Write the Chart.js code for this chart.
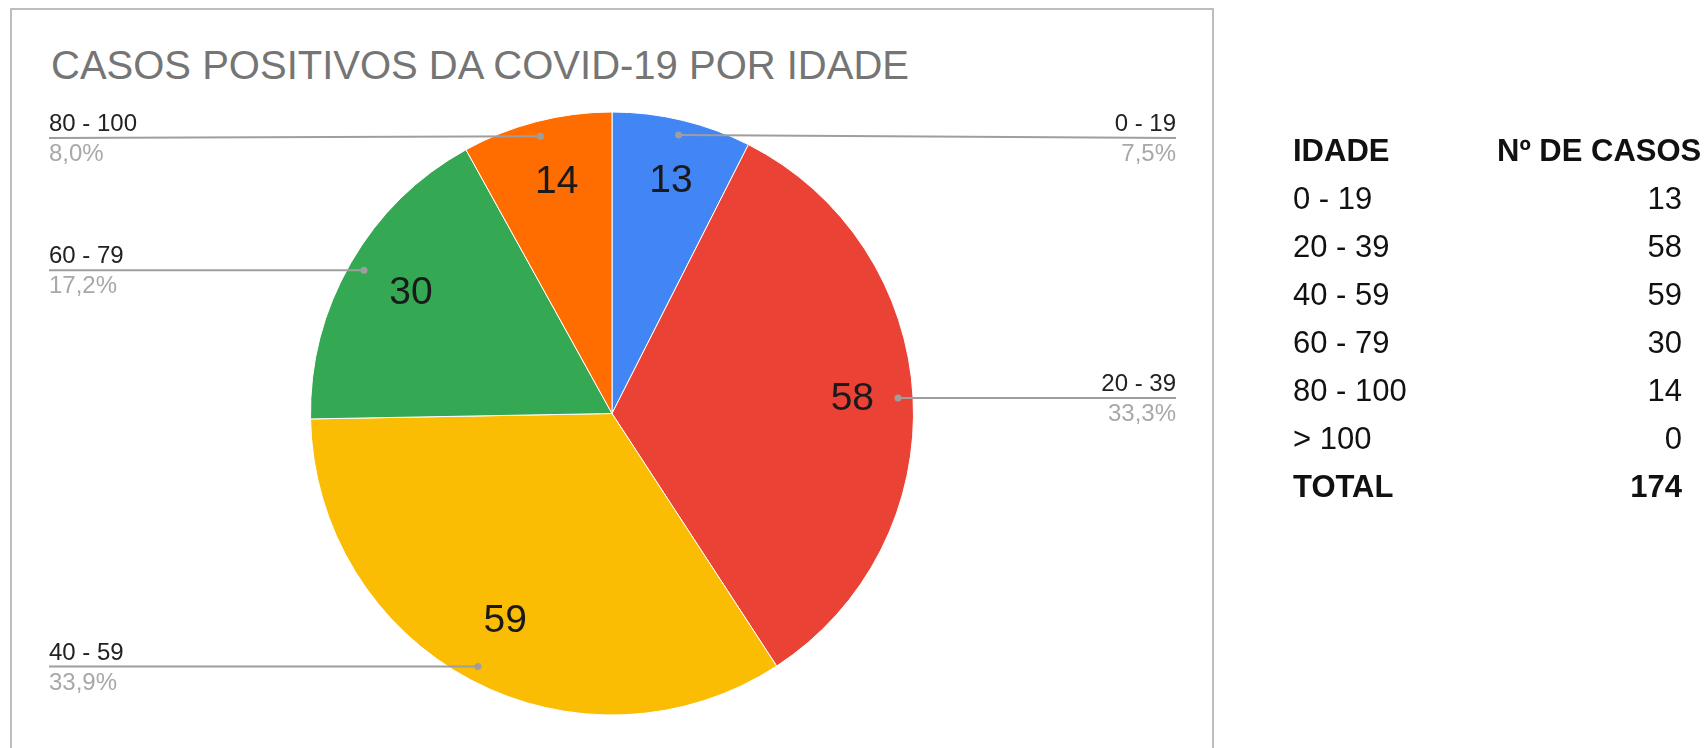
<!DOCTYPE html>
<html>
<head>
<meta charset="utf-8">
<script src="https://cdn.jsdelivr.net/npm/chart.js@4"></script>
<style>
  body { margin: 0; background: #fff; overflow: hidden; width: 1708px; height: 748px; position: relative; font-family: Arial, "Liberation Sans", sans-serif; }
  .caixa { position: absolute; left: 10px; top: 8px; width: 1204px; height: 800px; border: 2px solid #bdbdbd; box-sizing: border-box; }
  .titulo { position: absolute; left: 51px; top: 45px; font-size: 40px; line-height: 40px; color: #757575; white-space: nowrap; }
  #grafico { position: absolute; left: 0; top: 0; }
  .tabela { position: absolute; left: 1293px; top: 127px; width: 389px; font-size: 31px; line-height: 48px; color: #111; }
  .linha { position: relative; height: 48px; white-space: nowrap; }
  .linha .num { position: absolute; right: 0; top: 0; }
  .linha .cab { position: absolute; left: 204px; top: 0; }
  .negrito { font-weight: bold; }
</style>
</head>
<body>
<div class="caixa"></div>
<div class="titulo">CASOS POSITIVOS DA COVID-19 POR IDADE</div>
<canvas id="grafico" width="1708" height="748"></canvas>
<div class="tabela" id="tabela"></div>

<script>
const faixas = ['0 - 19', '20 - 39', '40 - 59', '60 - 79', '80 - 100', '> 100'];
const casos = [13, 58, 59, 30, 14, 0];
const cores = ['#4285f4', '#ea4335', '#fbbc04', '#34a853', '#ff6d01', '#46bdc6'];

const total = casos.reduce((a, b) => a + b, 0);

// tabela do lado direito
const tab = document.getElementById('tabela');
let html = '<div class="linha negrito">IDADE<span class="cab">Nº DE CASOS</span></div>';
faixas.forEach((f, i) => {
  html += '<div class="linha">' + f + '<span class="num">' + casos[i] + '</span></div>';
});
html += '<div class="linha negrito">TOTAL<span class="num">' + total + '</span></div>';
tab.innerHTML = html;

// rotulos: valor dentro da fatia + linha com nome e percentual fora
const rotulos = {
  id: 'rotulos',
  afterDatasetsDraw(chart) {
    const ctx = chart.ctx;
    const meta = chart.getDatasetMeta(0);
    const area = chart.chartArea;
    ctx.save();
    meta.data.forEach((arc, i) => {
      const v = casos[i];
      if (!v) return;
      const p = arc.getProps(['x', 'y', 'startAngle', 'endAngle', 'outerRadius'], true);
      const mid = (p.startAngle + p.endAngle) / 2;
      const r = p.outerRadius;

      // valor (centro visual do texto)
      ctx.font = '39px Arial, "Liberation Sans"';
      ctx.fillStyle = '#1a1a1a';
      ctx.textAlign = 'center';
      ctx.textBaseline = 'alphabetic';
      const tx = p.x + Math.cos(mid) * r * 0.785 + 4;
      const ty = p.y + Math.sin(mid) * r * 0.785 - 5;
      ctx.fillText(String(v), tx, ty + 14);

      // ponto e linha
      const px = p.x + Math.cos(mid) * r * 0.95;
      const py = p.y + Math.sin(mid) * r * 0.95;
      const direita = Math.cos(mid) > 0;
      const ly = Math.max(py, area.top + 27);
      const fim = direita ? 1176 : 49;

      ctx.strokeStyle = '#9e9e9e';
      ctx.lineWidth = 2;
      ctx.beginPath();
      ctx.moveTo(px, py);
      ctx.lineTo(fim, ly);
      ctx.stroke();
      ctx.fillStyle = '#9e9e9e';
      ctx.beginPath();
      ctx.arc(px, py, 3.5, 0, Math.PI * 2);
      ctx.fill();

      ctx.font = '24px Arial, "Liberation Sans"';
      ctx.textAlign = direita ? 'right' : 'left';
      ctx.fillStyle = '#222';
      ctx.fillText(faixas[i], fim, ly - 7);
      ctx.fillStyle = '#a8a8a8';
      const pct = (v / total * 100).toFixed(1).replace('.', ',') + '%';
      ctx.fillText(pct, fim, ly + 23);
    });
    ctx.restore();
  }
};

const data = {
  labels: faixas,
  datasets: [{
    data: casos,
    backgroundColor: cores,
    borderColor: '#ffffff',
    borderWidth: 1,
    hoverOffset: 0,
    offset: 0
  }]
};

const config = {
  type: 'pie',
  data: data,
  options: {
    responsive: false,
    animation: false,
    layout: { padding: { left: 310, right: 794, top: 111, bottom: 32 } },
    plugins: {
      legend: { display: false },
      tooltip: { enabled: false },
      title: { display: false }
    }
  },
  plugins: [rotulos]
};

const myChart = new Chart(document.getElementById('grafico'), config);
</script>
</body>
</html>
